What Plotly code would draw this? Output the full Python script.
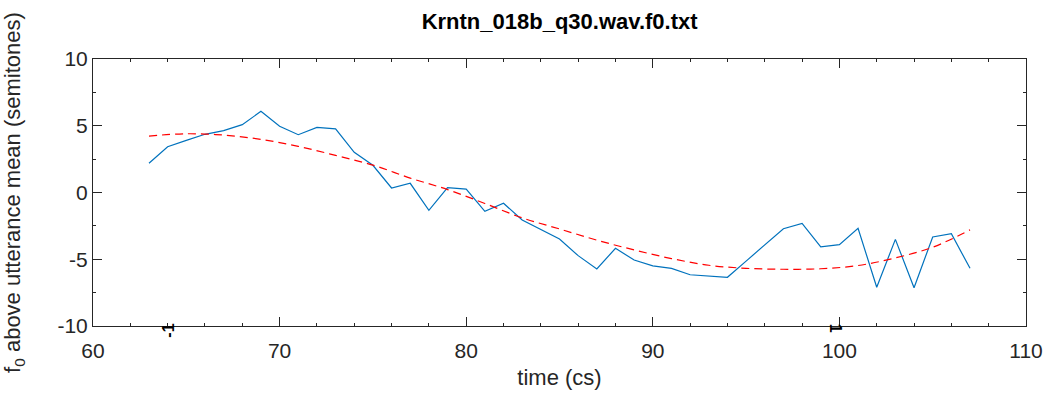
import plotly.graph_objects as go

# observed f0 contour (blue)
time_cs = list(range(63, 108))
f0_semitones = [2.19, 3.43, 3.9, 4.36, 4.63, 5.08, 6.08, 4.96, 4.33, 4.88,
                4.76, 3.01, 2.04, 0.34, 0.69, -1.33, 0.36, 0.26, -1.41, -0.81,
                -2.06, -2.77, -3.48, -4.73, -5.73, -4.18, -5.06, -5.50, -5.68, -6.16,
                -6.25, -6.35, -5.14, -3.92, -2.71, -2.31, -4.08, -3.91, -2.68, -7.10,
                -3.51, -7.13, -3.33, -3.09, -5.68]

# fitted curve (red dashed)
fit_time = [63, 65, 67, 69, 71, 73, 75, 77, 79, 81, 83, 85, 87, 89, 91, 93,
            95, 97, 99, 101, 103, 105, 107]
fit_values = [4.23, 4.40, 4.30, 3.98, 3.46, 2.78, 2.05, 1.08, 0.22, -0.82, -1.90,
              -2.73, -3.57, -4.30, -4.95, -5.45, -5.68, -5.75, -5.71, -5.47, -4.90,
              -4.10, -2.80]

# tick labels
x_ticks = [60, 70, 80, 90, 100, 110]
x_ticktext = ["60", "70", "80", "90", "100", "110"]
y_ticks = [-10, -5, 0, 5, 10]
y_ticktext = ["-10", "-5", "0", "5", "10"]

# small rotated labels near the bottom axis
mark_x = [64, 99.8]
mark_text = ["-1", "1"]
mark_angle = [-90, 90]

title_text = "Krntn_018b_q30.wav.f0.txt"

font_family = "Liberation Sans, Arial, Helvetica, sans-serif"
axis_color = "#262626"

fig = go.Figure()
fig.add_trace(go.Scatter(x=time_cs, y=f0_semitones, mode="lines",
                         line=dict(color="#0072BD", width=1.2), showlegend=False))
fig.add_trace(go.Scatter(x=fit_time, y=fit_values, mode="lines",
                         line=dict(color="#FF0000", width=1.2, dash="8px,5px", shape="spline"),
                         showlegend=False))

for mx, mt, ma in zip(mark_x, mark_text, mark_angle):
    fig.add_annotation(x=mx, y=-10, text="<b>" + mt + "</b>", textangle=ma, showarrow=False,
                       xref="x", yref="y", yanchor="top", yshift=4,
                       font=dict(family=font_family, size=16, color="black"))

axis_common = dict(showgrid=False, zeroline=False, showline=True, linecolor=axis_color,
                   linewidth=1, mirror="ticks", ticks="inside", ticklen=9,
                   tickcolor=axis_color, tickwidth=1, automargin=False,
                   tickfont=dict(family=font_family, size=21, color=axis_color))

fig.update_xaxes(range=[60, 110], tickvals=x_ticks, ticktext=x_ticktext,
                 ticklabelstandoff=6,
                 minor=dict(ticks="inside", dtick=2, tick0=60, ticklen=3, tickcolor=axis_color),
                 title=dict(text="time (cs)", font=dict(family=font_family, size=22, color=axis_color),
                            standoff=8),
                 **axis_common)
fig.update_yaxes(range=[-10, 10], tickvals=y_ticks, ticktext=y_ticktext,
                 minor=dict(ticks="inside", dtick=2.5, tick0=-10, ticklen=3, tickcolor=axis_color),
                 title=dict(text="f<sub>0</sub> above utterance mean (semitones)",
                            font=dict(family=font_family, size=22, color=axis_color),
                            standoff=30),
                 **axis_common)

fig.update_layout(
    width=1046, height=394,
    margin=dict(l=93, r=20, t=59, b=68),
    paper_bgcolor="white", plot_bgcolor="white",
    title=dict(text="<b>" + title_text + "</b>", x=0.535, xanchor="center", y=0.945, yanchor="middle",
               font=dict(family=font_family, size=22, color="black")),
)

fig.write_html("out.html")
